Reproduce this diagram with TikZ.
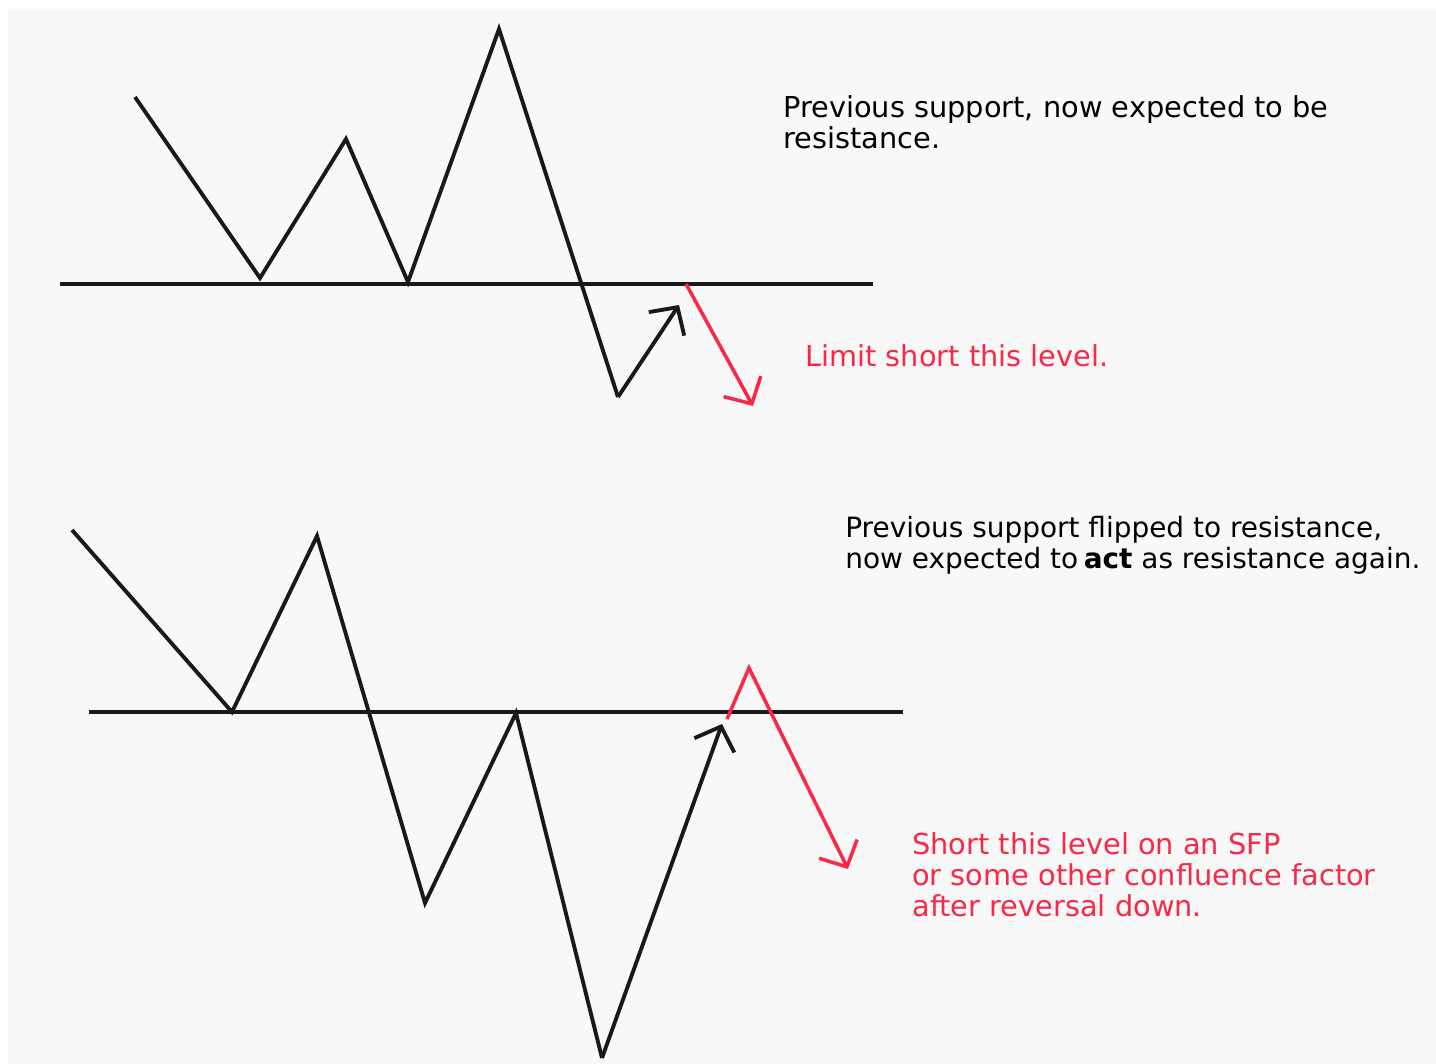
\documentclass[tikz,border=0pt]{standalone}
\usepackage{fontspec}
\setmainfont{DejaVu Sans}
\usetikzlibrary{arrows.meta}
\definecolor{bggray}{HTML}{F8F8F8}
\definecolor{markred}{RGB}{250,40,70}

\begin{document}
\begin{tikzpicture}[x=0.02cm,y=-0.02cm,
  price/.style={line width=2.2pt,line join=miter,black!90},
  level/.style={line width=2.4pt,black!90},
  move/.style={-{Straight Barb[length=4mm,width=8.5mm]}},
  redmove/.style={line width=2pt,markred,line join=miter},
  note/.style={anchor=north west,align=left,inner sep=0pt,font=\fontsize{16.4}{17.6}\selectfont}]
\useasboundingbox (0,0) rectangle (1436,1064);
\fill[white] (0,0) rectangle (1436,1064);
\fill[bggray] (8,10) rectangle (1436,1064);
% upper chart: support broken, retest from below
\draw[level] (60,284) -- (873,284);
\foreach \n/\x/\y in {ua/135/97,ub/260/278,uc/346/139,ud/408/282,ue/499/29,uf/618/397,ug/679/305}
  \coordinate (\n) at (\x,\y);
\coordinate (ur1) at (686,284);
\coordinate (ur2) at (753,406);
\draw[price] (ua) -- (ub) -- (uc) -- (ud) -- (ue) -- (uf);
\draw[price,move] (uf) -- (ug);
\draw[redmove,move] (ur1) -- (ur2);
\node[note] (utext) at (783,95) {Previous support, now expected to be\\resistance.};
\node[note,text=markred] (ulimit) at (805,344) {Limit short this level.};
% lower chart: flipped level, deviation above and back down
\draw[level] (89,712) -- (903,712);
\foreach \n/\x/\y in {la/72/530,lb/232/712,lc/317/536,ld/425/903,le/516/713,lf/602/1058,lg/722/724}
  \coordinate (\n) at (\x,\y);
\coordinate (lr1) at (727,719);
\coordinate (lr2) at (749,668);
\coordinate (lr3) at (848,869);
\draw[price] (la) -- (lb) -- (lc) -- (ld) -- (le) -- (lf);
\draw[price,move] (lf) -- (lg);
\draw[redmove,move] (lr1) -- (lr2) -- (lr3);
\node[note,font=\fontsize{15.9}{17.6}\selectfont] (ltext) at (845,516) {Previous support flipped to resistance,\\now expected to\hspace{0.2em}\textbf{act} as resistance again.};
\node[note,text=markred] (lshort) at (912,832) {Short this level on an SFP\\or some other confluence factor\\after reversal down.};
\end{tikzpicture}
\end{document}
